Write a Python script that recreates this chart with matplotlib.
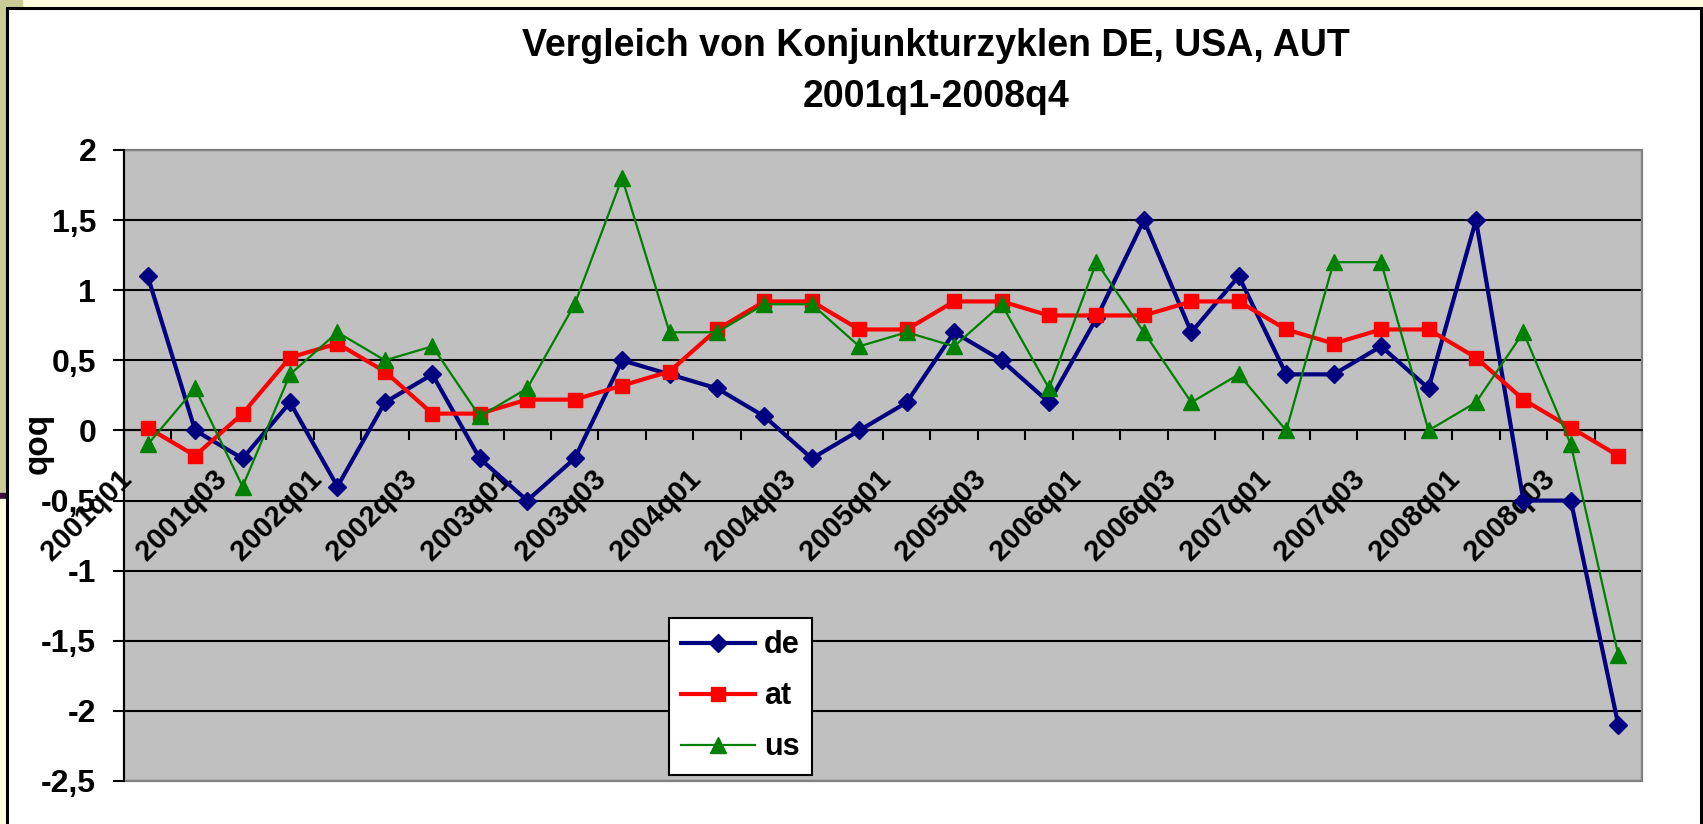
import numpy as np
import matplotlib
matplotlib.use("Agg")
import matplotlib.pyplot as plt
from matplotlib.patches import Rectangle
from matplotlib.transforms import offset_copy

plt.rcParams['font.family'] = ['Liberation Sans', 'DejaVu Sans']

# quarterly growth (qoq) 2001q1 - 2008q4
quarters = [f"{y}q0{q}" for y in range(2001, 2009) for q in range(1, 5)]

de = [1.1, 0.0, -0.2, 0.2, -0.4, 0.2, 0.4, -0.2,
      -0.5, -0.2, 0.5, 0.4, 0.3, 0.1, -0.2, 0.0,
      0.2, 0.7, 0.5, 0.2, 0.8, 1.5, 0.7, 1.1,
      0.4, 0.4, 0.6, 0.3, 1.5, -0.5, -0.5, -2.1]
at = [0.02, -0.18, 0.12, 0.52, 0.62, 0.42, 0.12, 0.12,
      0.22, 0.22, 0.32, 0.42, 0.72, 0.92, 0.92, 0.72,
      0.72, 0.92, 0.92, 0.82, 0.82, 0.82, 0.92, 0.92,
      0.72, 0.62, 0.72, 0.72, 0.52, 0.22, 0.02, -0.18]
us = [-0.1, 0.3, -0.4, 0.4, 0.7, 0.5, 0.6, 0.1,
      0.3, 0.9, 1.8, 0.7, 0.7, 0.9, 0.9, 0.6,
      0.7, 0.6, 0.9, 0.3, 1.2, 0.7, 0.2, 0.4,
      0.0, 1.2, 1.2, 0.0, 0.2, 0.7, -0.1, -1.6]

y_ticks = [-2.5, -2, -1.5, -1, -0.5, 0, 0.5, 1, 1.5, 2]
y_labels = ["-2,5", "-2", "-1,5", "-1", "-0,5", "0", "0,5", "1", "1,5", "2"]

W, H = 1703, 824
fx = lambda px: px / W
fy = lambda py: 1 - py / H

fig = plt.figure(figsize=(W / 100, H / 100), dpi=100)
fig.patch.set_facecolor('white')

# slide background strips and chart frame
fig.patches.append(Rectangle((0, fy(7)), 1, 7 / H, transform=fig.transFigure, color='#FFFFDD', zorder=0))
fig.patches.append(Rectangle((0, fy(7)), fx(22), 7 / H, transform=fig.transFigure, color='#CBCB96', zorder=0))
fig.patches.append(Rectangle((0, fy(493)), fx(5), 493 / H, transform=fig.transFigure, color='#CBCB96', zorder=0))
fig.patches.append(Rectangle((0, fy(499)), fx(5), 6 / H, transform=fig.transFigure, color='#3C0A3C', zorder=0))
fig.patches.append(Rectangle((0, 0), fx(5), fy(499), transform=fig.transFigure, color='#FFFFDD', zorder=0))
fig.patches.append(Rectangle((fx(6.5), -0.01), fx(1701) - fx(6.5), fy(7.5) + 0.01, transform=fig.transFigure,
                             fill=False, edgecolor='black', lw=2.2, zorder=1))

ax = fig.add_axes([fx(124), fy(781), (1642 - 124) / W, (781 - 150) / H])
ax.set_facecolor('#C0C0C0')

x = np.arange(len(quarters))
ax.plot(x, de, color='#000080', lw=3, marker='D', ms=9, mec='#000080', label='de', zorder=3)
ax.plot(x, at, color='#FF0000', lw=3, marker='s', ms=10, mec='#FF0000', label='at', zorder=4)
ax.plot(x, us, color='#008000', lw=1.6, marker='^', ms=12, mec='#008000', label='us', zorder=5)

ax.set_xlim(-0.5, len(quarters) - 0.5)
ax.set_ylim(-2.5, 2)

ax.set_yticks(y_ticks)
ax.set_yticklabels(y_labels, fontsize=23, fontweight='bold')
ax.yaxis.grid(True, color='black', lw=1.5)
ax.set_axisbelow(True)
ax.tick_params(axis='y', direction='out', length=8, width=1.5, pad=12)

# category axis crosses at 0, ticks between categories
ax.set_xticks(np.arange(-0.5, len(quarters), 1))
ax.set_xticklabels([])
ax.tick_params(axis='x', direction='out', length=7, width=1.5)
ax.spines['bottom'].set_position(('data', 0))
ax.spines['bottom'].set_linewidth(1.5)
ax.spines['left'].set_linewidth(1.5)
ax.spines['top'].set_visible(False)
ax.spines['right'].set_visible(False)
ax.add_patch(Rectangle((0, 0), 1, 1, transform=ax.transAxes, fill=False,
                       edgecolor='#808080', lw=1.6, zorder=2.5, clip_on=False))

lab_tr = offset_copy(ax.transData, fig=fig, x=-30, y=-34, units='dots')
for i in range(0, len(quarters), 2):
    ax.text(x[i], 0, quarters[i], transform=lab_tr, rotation=45, rotation_mode='anchor',
            ha='right', va='top', fontsize=21, fontweight='bold', clip_on=False, zorder=1.5)

fig.text(fx(38), fy(443), 'qoq', rotation=90, ha='center', va='center', fontsize=24, fontweight='bold')
fig.text(fx(936), fy(56), 'Vergleich von Konjunkturzyklen DE, USA, AUT', ha='center', va='baseline',
         fontsize=27, fontweight='bold')
fig.text(fx(936), fy(107), '2001q1-2008q4', ha='center', va='baseline', fontsize=27, fontweight='bold')

leg = ax.legend(loc='upper left', bbox_to_anchor=(fx(669), fy(618)), bbox_transform=fig.transFigure,
                prop={'size': 22, 'weight': 'bold'}, frameon=True, fancybox=False, edgecolor='black',
                framealpha=1, borderaxespad=0, handlelength=2.4, handletextpad=0.3,
                labelspacing=0.69, borderpad=0.4)
leg.get_frame().set_linewidth(1.5)

fig.savefig('out.png', dpi=100)
